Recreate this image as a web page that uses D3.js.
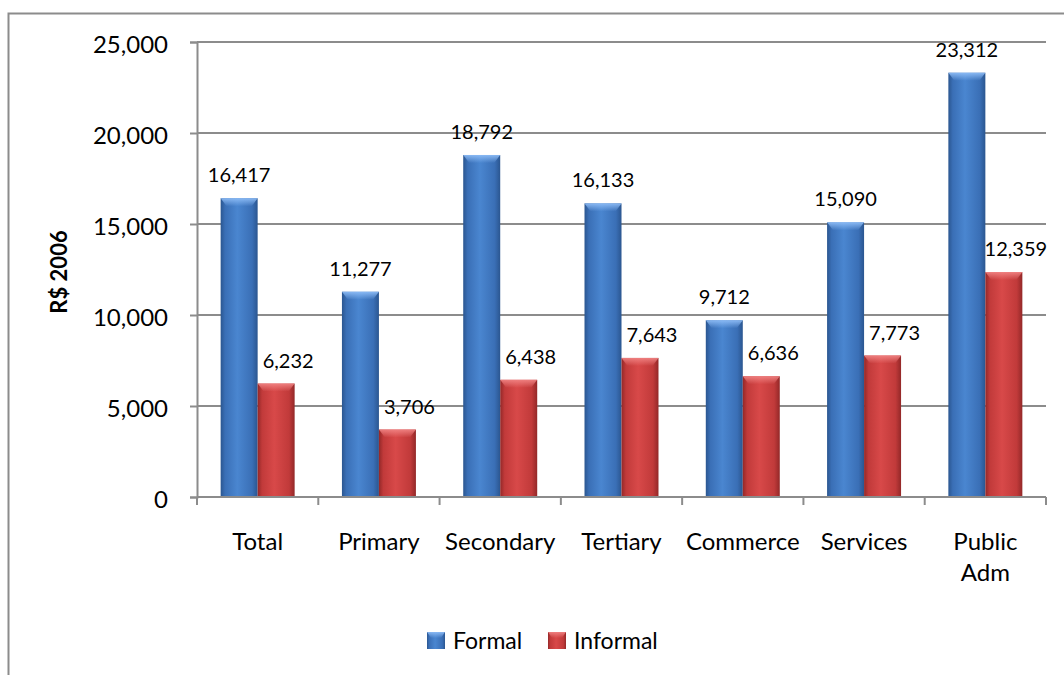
<!DOCTYPE html>
<html>
<head>
<meta charset="utf-8">
<script src="https://cdnjs.cloudflare.com/ajax/libs/d3/7.8.5/d3.min.js"></script>
<style>
  body { margin: 0; background: #fff; }
  svg { display: block; font-family: Lato, "Open Sans", sans-serif; }
</style>
</head>
<body>
<div id="chart-area"></div>
<script>
// data
var categories = ["Total", "Primary", "Secondary", "Tertiary", "Commerce", "Services", "Public Adm"]
var formal = [16417, 11277, 18792, 16133, 9712, 15090, 23312]
var informal = [6232, 3706, 6438, 7643, 6636, 7773, 12359]
var seriesNames = ["Formal", "Informal"]
var yTicks = [0, 5000, 10000, 15000, 20000, 25000]

var width = 1064, height = 675
var plot = {left: 197, top: 42, right: 1046, bottom: 497}

var svg = d3.select("#chart-area").append("svg")
  .attr("width", width)
  .attr("height", height)

var defs = svg.append("defs")
function sideGrad(id, edge, mid, hi) {
  var g = defs.append("linearGradient").attr("id", id)
    .attr("x1", "0%").attr("x2", "100%").attr("y1", "0%").attr("y2", "0%")
  g.append("stop").attr("offset", "0%").attr("stop-color", edge)
  g.append("stop").attr("offset", "12%").attr("stop-color", mid)
  g.append("stop").attr("offset", "45%").attr("stop-color", hi)
  g.append("stop").attr("offset", "85%").attr("stop-color", mid)
  g.append("stop").attr("offset", "100%").attr("stop-color", edge)
}
sideGrad("gBlue", "#2b5690", "#3a6fb6", "#4a86d0")
sideGrad("gRed", "#932828", "#c13a3a", "#d84949")
function topGrad(id, c) {
  var g = defs.append("linearGradient").attr("id", id)
    .attr("x1", "0%").attr("x2", "0%").attr("y1", "0%").attr("y2", "100%")
  g.append("stop").attr("offset", "0%").attr("stop-color", c).attr("stop-opacity", 0.95)
  g.append("stop").attr("offset", "100%").attr("stop-color", c).attr("stop-opacity", 0)
}
topGrad("tBlue", "#8dbcf6")
topGrad("tRed", "#f08282")

var fills = {Formal: "url(#gBlue)", Informal: "url(#gRed)"}
var tops = {Formal: "url(#tBlue)", Informal: "url(#tRed)"}

// outer chart border
svg.append("rect")
  .attr("x", 8.5).attr("y", 13.5)
  .attr("width", 1080).attr("height", 700)
  .attr("fill", "none")
  .attr("stroke", "#8c8c8c")
  .attr("stroke-width", 2)

var x = d3.scaleBand()
  .domain(categories)
  .range([plot.left, plot.right])

var barW = x.bandwidth() * 0.305
var xs = d3.scaleBand()
  .domain(seriesNames)
  .range([(x.bandwidth() - 2 * barW) / 2, (x.bandwidth() + 2 * barW) / 2])

var y = d3.scaleLinear()
  .domain([0, 25000])
  .range([plot.bottom, plot.top])

// gridlines
svg.append("g").selectAll("line")
  .data(yTicks.slice(1))
  .enter().append("line")
  .attr("x1", plot.left).attr("x2", plot.right)
  .attr("y1", d => y(d)).attr("y2", d => y(d))
  .attr("stroke", "#8c8c8c")
  .attr("stroke-width", 2)

// y axis
var yAxis = svg.append("g")
  .attr("transform", "translate(" + plot.left + ",0)")
  .call(d3.axisLeft(y).tickValues(yTicks).tickFormat(d3.format(",")).tickSize(7).tickPadding(22))
yAxis.select(".domain").attr("stroke", "#8c8c8c").attr("stroke-width", 2)
yAxis.selectAll(".tick line").attr("stroke", "#8c8c8c").attr("stroke-width", 2)
yAxis.selectAll(".tick text")
  .attr("font-size", 24).attr("fill", "#000")
  .attr("font-family", "Lato, sans-serif")
  .attr("dy", "0.42em")

// bars
var rows = []
categories.forEach((c, i) => {
  rows.push({cat: c, s: "Formal", v: formal[i]})
  rows.push({cat: c, s: "Informal", v: informal[i]})
})

var bars = svg.append("g").selectAll("g")
  .data(rows)
  .enter().append("g")

bars.append("rect")
  .attr("x", d => x(d.cat) + xs(d.s))
  .attr("y", d => y(d.v))
  .attr("width", xs.bandwidth())
  .attr("height", d => y(0) - y(d.v))
  .attr("fill", d => fills[d.s])

// top bevel highlight
bars.append("path")
  .attr("d", d => {
    var x0 = x(d.cat) + xs(d.s), x1 = x0 + xs.bandwidth(), t = y(d.v)
    return "M" + x0 + "," + t + "L" + x1 + "," + t + "L" + (x1 - 6) + "," + (t + 8) + "L" + (x0 + 6) + "," + (t + 8) + "Z"
  })
  .attr("fill", d => tops[d.s])

// value labels
bars.append("text")
  .attr("x", d => x(d.cat) + xs(d.s) + xs.bandwidth() / 2 + (d.s == "Informal" ? 12 : 0))
  .attr("y", d => y(d.v) - 16)
  .attr("text-anchor", "middle")
  .attr("font-size", 20)
  .attr("fill", "#000")
  .text(d => d3.format(",")(d.v))

// x axis line and boundary ticks
svg.append("line")
  .attr("x1", plot.left).attr("x2", plot.right)
  .attr("y1", plot.bottom).attr("y2", plot.bottom)
  .attr("stroke", "#8c8c8c").attr("stroke-width", 2)

var bounds = categories.map(c => x(c)).concat([plot.right])
svg.append("g").selectAll("line")
  .data(bounds)
  .enter().append("line")
  .attr("x1", d => d).attr("x2", d => d)
  .attr("y1", plot.bottom).attr("y2", plot.bottom + 8)
  .attr("stroke", "#8c8c8c").attr("stroke-width", 2)

// category labels (wrap on space for the long one)
var catText = svg.append("g").selectAll("text")
  .data(categories)
  .enter().append("text")
  .attr("x", d => x(d) + x.bandwidth() / 2)
  .attr("y", 550)
  .attr("text-anchor", "middle")
  .attr("font-size", 24)
  .attr("fill", "#000")

catText.each(function(d) {
  var words = d == "Public Adm" ? d.split(" ") : [d]
  var t = d3.select(this)
  words.forEach((w, i) => {
    t.append("tspan")
      .attr("x", x(d) + x.bandwidth() / 2)
      .attr("dy", i == 0 ? 0 : 31)
      .text(w)
  })
})

// y axis title
svg.append("text")
  .attr("transform", "translate(58,272) rotate(-90)")
  .attr("text-anchor", "middle")
  .attr("dominant-baseline", "central")
  .attr("font-size", 22)
  .attr("font-weight", "bold")
  .text("R$ 2006")

// legend
var legendX = [427, 548]
var legend = svg.append("g").selectAll("g")
  .data(seriesNames)
  .enter().append("g")
  .attr("transform", (d, i) => "translate(" + legendX[i] + ",632)")

legend.append("rect")
  .attr("width", 18).attr("height", 17)
  .attr("fill", d => fills[d])
legend.append("path")
  .attr("d", "M0,0L18,0L14,6L4,6Z")
  .attr("fill", d => tops[d])
legend.append("text")
  .attr("x", 26).attr("y", 17)
  .attr("font-size", 23)
  .attr("fill", "#000")
  .text(d => d)
</script>
</body>
</html>
